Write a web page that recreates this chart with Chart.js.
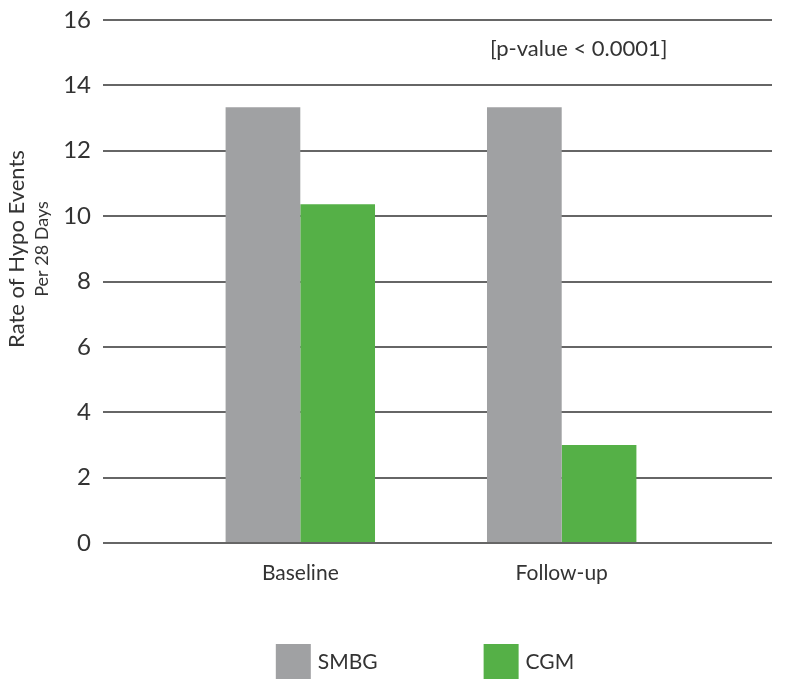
<!DOCTYPE html>
<html>
<head>
<meta charset="utf-8">
<script src="https://cdn.jsdelivr.net/npm/chart.js@4"></script>
<style>
  html, body { margin: 0; padding: 0; background: #fff; }
  #wrap { width: 800px; height: 690px; }
</style>
</head>
<body>
<div id="wrap"><canvas id="graph"></canvas></div>
<script>
// data
var categories = ["Baseline", "Follow-up"];
var smbg = [13.33, 13.33];
var cgm = [10.36, 3.0];
var yTicks = [0, 2, 4, 6, 8, 10, 12, 14, 16];
var yTitle = "Rate of Hypo Events";
var ySubTitle = "Per 28 Days";
var note = "[p-value < 0.0001]";

var FONT = "Lato";
var TEXT = "#333333";

// y axis title with a smaller second line
const yTitlePlugin = {
  id: "yTitle",
  afterDraw(chart) {
    const ctx = chart.ctx;
    ctx.save();
    ctx.fillStyle = TEXT;
    ctx.textAlign = "center";
    ctx.textBaseline = "alphabetic";
    ctx.translate(24, 249);
    ctx.rotate(-Math.PI / 2);
    ctx.font = "22px " + FONT;
    ctx.fillText(yTitle, 0, 0);
    ctx.restore();
    ctx.save();
    ctx.fillStyle = TEXT;
    ctx.textAlign = "center";
    ctx.translate(48, 249);
    ctx.rotate(-Math.PI / 2);
    ctx.font = "18px " + FONT;
    ctx.fillText(ySubTitle, 0, 0);
    ctx.restore();
  }
};

// p-value note
const notePlugin = {
  id: "note",
  afterDraw(chart) {
    const ctx = chart.ctx;
    ctx.save();
    ctx.fillStyle = TEXT;
    ctx.font = "22px " + FONT;
    ctx.textAlign = "left";
    ctx.textBaseline = "middle";
    ctx.fillText(note, 490, 49);
    ctx.restore();
  }
};

// legend drawn under the axis, wide gap between items
const legendPlugin = {
  id: "wideLegend",
  afterDraw(chart) {
    const ctx = chart.ctx;
    const box = 35, gap = 7, itemGap = 106;
    ctx.save();
    ctx.font = "21px " + FONT;
    let total = 0;
    chart.data.datasets.forEach((ds, i) => {
      total += box + gap + ctx.measureText(ds.label).width;
      if (i > 0) total += itemGap;
    });
    let x = 425 - total / 2;
    const top = 644;
    chart.data.datasets.forEach((ds) => {
      ctx.fillStyle = ds.backgroundColor;
      ctx.fillRect(x, top, box, box);
      x += box + gap;
      ctx.fillStyle = TEXT;
      ctx.textBaseline = "middle";
      ctx.fillText(ds.label, x, top + box / 2 + 1);
      x += ctx.measureText(ds.label).width + itemGap;
    });
    ctx.restore();
  }
};

const graph = new Chart("graph", {
  type: "bar",
  data: {
    datasets: [
      {
        label: "SMBG",
        backgroundColor: "#a0a1a3",
        data: smbg.map((v, i) => ({ x: i + 1, y: v }))
      },
      {
        label: "CGM",
        backgroundColor: "#55b047",
        data: cgm.map((v, i) => ({ x: i + 1, y: v }))
      }
    ]
  },
  options: {
    responsive: true,
    maintainAspectRatio: false,
    animation: false,
    layout: { padding: { top: 20, right: 28, bottom: 47, left: 0 } },
    datasets: { bar: { barPercentage: 1.0, categoryPercentage: 0.5716 } },
    scales: {
      x: {
        type: "linear",
        offset: false,
        min: 0.2452,
        max: 2.8045,
        grid: { display: false, drawTicks: false },
        border: { display: false },
        afterBuildTicks: s => { s.ticks = categories.map((c, i) => ({ value: i + 1 })); },
        afterFit: s => { s.height = 100; },
        ticks: {
          padding: 18,
          color: TEXT,
          font: { family: FONT, size: 21 },
          callback: v => categories[v - 1]
        }
      },
      y: {
        min: 0,
        max: 16,
        afterBuildTicks: s => { s.ticks = yTicks.map(v => ({ value: v })); },
        afterFit: s => { s.width = 103; s.paddingTop = 0; s.paddingBottom = 0; },
        grid: { color: "#666666", lineWidth: 2, drawTicks: false },
        border: { display: false },
        ticks: {
          padding: 12,
          color: TEXT,
          font: { family: FONT, size: 24 }
        }
      }
    },
    plugins: {
      legend: { display: false },
      tooltip: { enabled: false }
    }
  },
  plugins: [yTitlePlugin, notePlugin, legendPlugin]
});
</script>
</body>
</html>
